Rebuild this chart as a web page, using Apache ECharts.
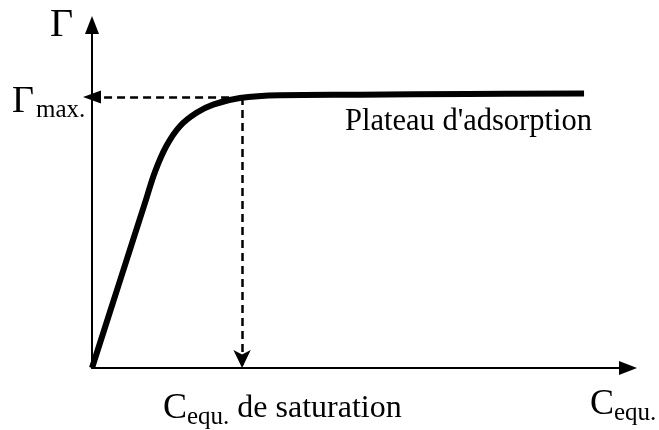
<!DOCTYPE html>
<html>
<head>
<meta charset="utf-8">
<script src="https://cdn.jsdelivr.net/npm/echarts@6/dist/echarts.min.js"></script>
<style>
html, body { margin: 0; padding: 0; background: #fff; }
#main { width: 659px; height: 430px; }
</style>
</head>
<body>
<div id="main"></div>
<script>
// courbe d'adsorption (x = C equ., y = Gamma)
var conc = [0, 5, 9.9, 11.8, 13.9, 16.4, 19.5, 22.6, 27.6, 35, 50, 70, 91.8];
var gamma = [0, 24.4, 48.2, 57.4, 64.8, 70.5, 74.4, 76.8, 78.7, 79.5, 79.7, 79.9, 80.0];
var gammaMax = 79.0;
var cSat = 28;
var serif = "'Liberation Serif', 'Times New Roman', serif";

var curve = conc.map(function (c, i) { return [c, gamma[i]]; });

var myChart = echarts.init(document.getElementById('main'));
myChart.setOption({
  animation: false,
  grid: { left: 92, right: 31, top: 25, bottom: 62 },
  xAxis: {
    type: 'value', min: 0, max: 100,
    splitLine: { show: false },
    axisTick: { show: false },
    axisLabel: { show: false },
    axisLine: {
      symbol: ['none', 'triangle'],
      symbolSize: [14, 18],
      lineStyle: { color: '#000', width: 2 }
    }
  },
  yAxis: {
    type: 'value', min: 0, max: 100,
    splitLine: { show: false },
    axisTick: { show: false },
    axisLabel: { show: false },
    axisLine: {
      symbol: ['none', 'triangle'],
      symbolSize: [14, 18],
      lineStyle: { color: '#000', width: 2 }
    }
  },
  series: [
    {
      type: 'line',
      data: curve,
      smooth: 0.4,
      showSymbol: false,
      lineStyle: { color: '#000', width: 6 },
      z: 3,
      markLine: {
        silent: true,
        symbolSize: [13, 18],
        lineStyle: { color: '#000', width: 2.5, type: [8, 5] },
        label: { show: false },
        data: [
          [{ coord: [cSat, gammaMax], symbol: 'none' }, { coord: [0, gammaMax], symbol: 'triangle' }],
          [{ coord: [cSat, gammaMax], symbol: 'none' }, { coord: [cSat, 0], symbol: 'arrow' }]
        ]
      }
    }
  ],
  graphic: [
    {
      type: 'text', left: 50, top: 5,
      style: { text: 'Γ', font: '40px ' + serif, fill: '#000' }
    },
    {
      type: 'text', left: 12, top: 83,
      style: {
        text: '{g|Γ}{s|max.}', fill: '#000',
        rich: {
          g: { fontFamily: serif, fontSize: 38, fill: '#000' },
          s: { fontFamily: serif, fontSize: 25, fill: '#000', padding: [16, 0, 0, 2] }
        }
      }
    },
    {
      type: 'text', left: 345, top: 106,
      style: { text: "Plateau d'adsorption", font: '30.5px ' + serif, fill: '#000' }
    },
    {
      type: 'text', left: 163, top: 391,
      style: {
        text: '{g|C}{s|equ.}{t| de saturation}', fill: '#000',
        rich: {
          g: { fontFamily: serif, fontSize: 36, fill: '#000' },
          s: { fontFamily: serif, fontSize: 25, fill: '#000', padding: [16, 0, 0, 0] },
          t: { fontFamily: serif, fontSize: 32, fill: '#000' }
        }
      }
    },
    {
      type: 'text', left: 590, top: 387,
      style: {
        text: '{g|C}{s|equ.}', fill: '#000',
        rich: {
          g: { fontFamily: serif, fontSize: 36, fill: '#000' },
          s: { fontFamily: serif, fontSize: 25, fill: '#000', padding: [16, 0, 0, 0] }
        }
      }
    }
  ]
});
</script>
</body>
</html>
